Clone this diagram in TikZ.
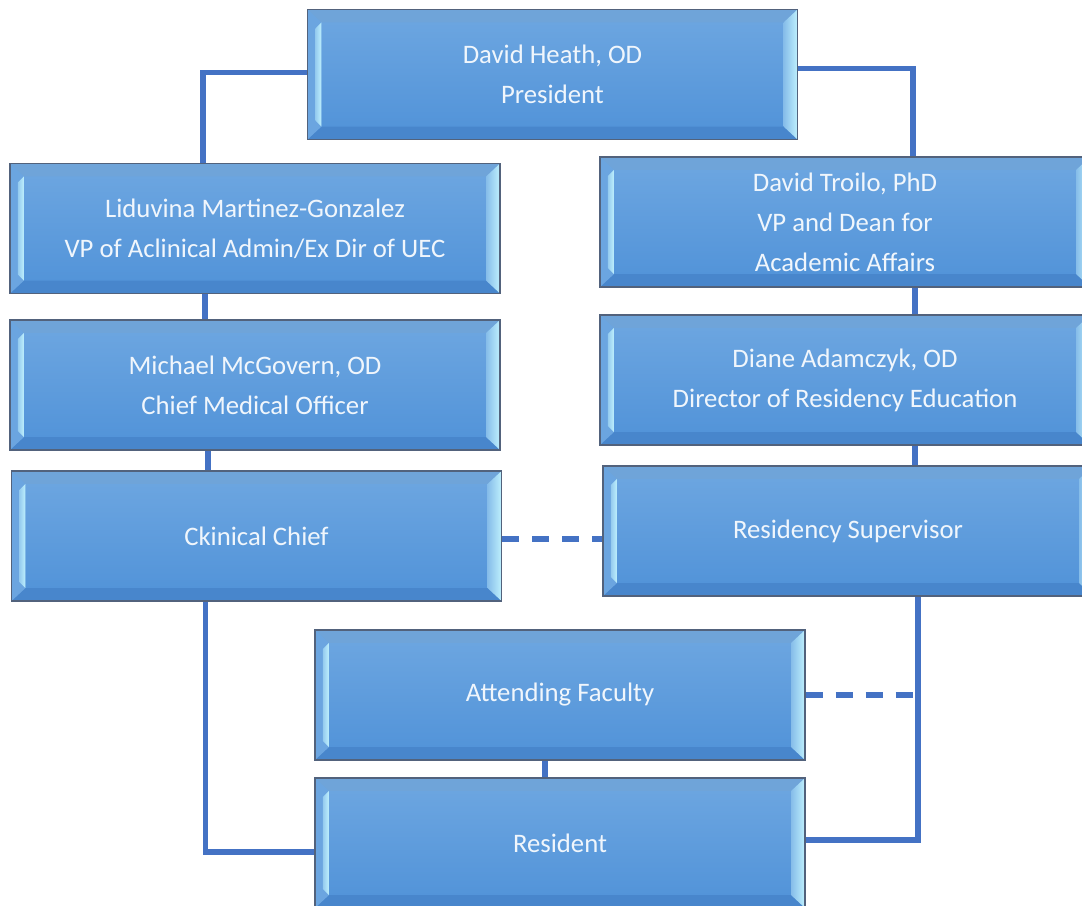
\documentclass[tikz,border=0pt]{standalone}
\usepackage{fontspec}
\setmainfont{Carlito}
\usetikzlibrary{calc}
\definecolor{boxtop}{RGB}{110,167,225}
\definecolor{boxbot}{RGB}{80,146,216}
\definecolor{bevlight}{RGB}{190,240,253}
\definecolor{bevdark}{RGB}{72,134,204}
\definecolor{boxline}{RGB}{82,98,124}
\definecolor{linkblue}{RGB}{68,114,196}
\begin{document}
\begin{tikzpicture}[
			x=0.025cm, y=-0.025cm,
			font=\fontsize{19}{28.5}\selectfont,
			box/.style={draw=boxline, line width=0.9pt, top color=boxtop, bottom color=boxbot,
				minimum width=12.25cm, minimum height=3.25cm, inner sep=0pt, text=white!90!boxtop, align=center,
				path picture={
					\coordinate (pnw) at (path picture bounding box.north west);
					\coordinate (pne) at (path picture bounding box.north east);
					\coordinate (psw) at (path picture bounding box.south west);
					\coordinate (pse) at (path picture bounding box.south east);
					\fill[boxtop!92!gray] (pnw) -- (pne) -- ($(pne)+(-14,13)$) -- ($(pnw)+(14,13)$) -- cycle;
					\fill[bevdark] (psw) -- (pse) -- ($(pse)+(-14,-13)$) -- ($(psw)+(14,-13)$) -- cycle;
					\fill[boxtop!90!boxbot] (pnw) -- ($(pnw)+(14,13)$) -- ($(psw)+(14,-13)$) -- (psw) -- cycle;
					\shade[left color=bevlight!50!boxtop, right color=bevlight] ($(pnw)+(8,19)$) -- ($(pnw)+(14,13)$) -- ($(psw)+(14,-13)$) -- ($(psw)+(8,-19)$) -- cycle;
					\shade[left color=boxtop!70!bevlight, right color=bevlight] (pne) -- ($(pne)+(-14,13)$) -- ($(pse)+(-14,-13)$) -- (pse) -- cycle;
				}},
			link/.style={draw=linkblue, line width=3.6pt},
			dlink/.style={link, dash pattern=on 0.42cm off 0.33cm}
			]
			\useasboundingbox (0,0) rectangle (1082,905);
			
			% left column
			\node[box] (pres) at (552.5,74.5) {David Heath, OD\\President};
			\node[box] (lid) at (255,228.5) {Liduvina Martinez-Gonzalez\\VP of Aclinical Admin/Ex Dir of UEC};
			\node[box] (mcg) at (255,385) {Michael McGovern, OD\\Chief Medical Officer};
			\node[box] (chief) at (256.5,536) {Ckinical Chief};
			
			% right column
			\node[box] (troilo) at (845,222) {David Troilo, PhD\\VP and Dean for\\Academic Affairs};
			\node[box] (adam) at (845,380) {Diane Adamczyk, OD\\Director of Residency Education};
			\node[box] (rs) at (848,531) {Residency Supervisor};
			
			% bottom
			\node[box] (att) at (560,695) {Attending Faculty};
			\node[box] (res) at (560,843) {Resident};
			
			\draw[link] ($(pres.west)+(0,-2)$) -| ($(lid.north)+(-52,0)$);
			\draw[link] ($(pres.east)+(0,-6)$) -| ($(troilo.north)+(68,0)$);
			\draw[link] ($(lid.south)+(-50,0)$) -- ($(mcg.north)+(-50,0)$);
			\draw[link] ($(mcg.south)+(-47,0)$) -- ($(chief.north)+(-48.5,0)$);
			\draw[link] ($(troilo.south)+(70,0)$) -- ($(adam.north)+(70,0)$);
			\draw[link] ($(adam.south)+(70,0)$) -- ($(rs.north)+(67,0)$);
			
			\coordinate (chiefdash) at ($(chief.east)+(0,3)$);
			\draw[dlink] (chiefdash) -- (chiefdash -| rs.west);
			\coordinate (rsdrop) at ($(rs.south)+(70,0)$);
			\draw[link] (rsdrop) |- ($(res.east)+(0,-3)$);
			\draw[dlink] (att.east) -- (att.east -| rsdrop);
			\draw[link] ($(chief.south)+(-51,0)$) |- ($(res.west)+(0,9)$);
			\draw[link] ($(att.south)+(-15,0)$) -- ($(res.north)+(-15,0)$);
			
		\end{tikzpicture}
\end{document}
